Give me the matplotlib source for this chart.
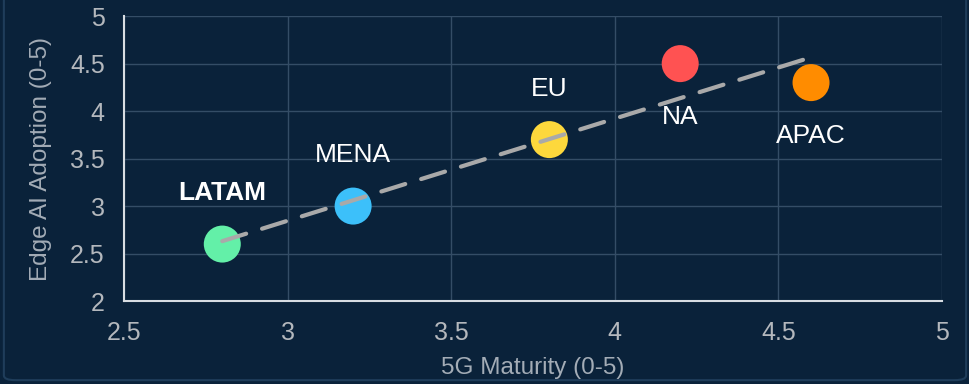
import numpy as np
import matplotlib.pyplot as plt
from matplotlib.patches import FancyBboxPatch

# data
regions = ["LATAM", "MENA", "EU", "NA", "APAC"]
maturity_5g = [2.8, 3.2, 3.8, 4.2, 4.6]
edge_ai = [2.6, 3.0, 3.7, 4.5, 4.3]
colors = ["#63f0a8", "#3cc0fa", "#fdd83c", "#ff5252", "#ff8c00"]
label_pos = ["above", "above", "above", "below", "below"]
x_ticks = [2.5, 3, 3.5, 4, 4.5, 5]
y_ticks = [2, 2.5, 3, 3.5, 4, 4.5, 5]
tick_labels_x = ["2.5", "3", "3.5", "4", "4.5", "5"]
tick_labels_y = ["2", "2.5", "3", "3.5", "4", "4.5", "5"]

bg = "#0a223a"
plt.rcParams["font.family"] = ["Liberation Sans", "DejaVu Sans"]

fig = plt.figure(figsize=(9.7, 3.84), dpi=100)
fig.patch.set_facecolor(bg)
fig.patches.append(FancyBboxPatch((0.004, 0.01), 0.992, 1.2, boxstyle="round,pad=0,rounding_size=0.012",
                                  transform=fig.transFigure, facecolor="none",
                                  edgecolor="#1f3d5a", linewidth=1.5))
ax = fig.add_axes([0.128, 0.216, 0.843, 0.742])
ax.set_facecolor(bg)

ax.scatter(maturity_5g, edge_ai, s=710, c=colors, zorder=3, linewidths=0)

# trend line (least squares fit)
slope, intercept = np.polyfit(maturity_5g, edge_ai, 1)
xs = np.array([min(maturity_5g), max(maturity_5g)])
ax.plot(xs, slope * xs + intercept, color="#a9a9a9", linewidth=3,
        dashes=(6, 4), dash_capstyle="round", solid_capstyle="round", zorder=4)

for name, x, y, pos in zip(regions, maturity_5g, edge_ai, label_pos):
    dy = 36.5 if pos == "above" else -38.5
    bold = name == "LATAM"
    ax.annotate(name, (x, y), xytext=(0, dy), textcoords="offset points",
                ha="center", va="center", color="white",
                fontsize=19,
                fontweight="bold" if bold else "normal", zorder=5)

ax.set_xlim(2.5, 5)
ax.set_ylim(2, 5)
ax.set_xticks(x_ticks)
ax.set_xticklabels(tick_labels_x)
ax.set_yticks(y_ticks)
ax.set_yticklabels(tick_labels_y)
ax.tick_params(colors="#b4b8bd", labelsize=18, length=0)
ax.tick_params(axis="x", pad=14)
ax.tick_params(axis="y", pad=14)
ax.grid(True, color="#344d66", linewidth=1)
ax.set_axisbelow(True)
for side in ["top", "right"]:
    ax.spines[side].set_visible(False)
for side in ["left", "bottom"]:
    ax.spines[side].set_color("#d8dde2")
    ax.spines[side].set_linewidth(1.5)

ax.set_xlabel("5G Maturity (0-5)", color="#a3acb6", fontsize=17.5, labelpad=9)
ax.set_ylabel("Edge AI Adoption (0-5)", color="#a3acb6", fontsize=17.5, labelpad=13)

fig.savefig("out.png", dpi=100, facecolor=bg)
